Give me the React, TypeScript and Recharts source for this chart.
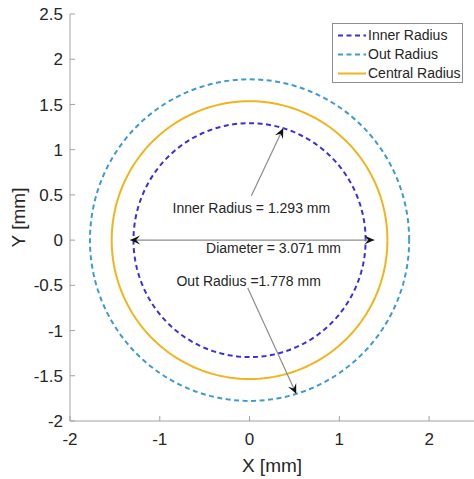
import React from 'react';
import { ComposedChart, Line, XAxis, YAxis, ReferenceLine, ReferenceDot, Legend } from 'recharts';

// ---- data ----
const seriesNames = ['Inner Radius', 'Out Radius', 'Central Radius'];
const seriesRadii = [1.293, 1.778, 1.5355];
const seriesColors = ['#3a30d8', '#3e9ad0', '#f0b41c'];
const seriesDash = ['5 3.5', '5 3.5', ''];

const xTicks = [-2, -1, 0, 1, 2];
const yTicks = [-2, -1.5, -1, -0.5, 0, 0.5, 1, 1.5, 2, 2.5];
const xDomain = [-2, 2.5];
const yDomain = [-2, 2.5];

const arrowStarts = [{ x: 0.02, y: 0.49 }, { x: -1.33, y: 0 }, { x: -0.02, y: -0.53 }];
const arrowEnds = [{ x: 0.375, y: 1.237 }, { x: 1.39, y: 0 }, { x: 0.52, y: -1.7 }];
const arrowDouble = [false, true, false];

const annotationTexts = ['Inner Radius = 1.293 mm', 'Diameter = 3.071 mm', 'Out Radius =1.778 mm'];
const annotationX = [0.02, 0.267, -0.01];
const annotationY = [0.354, -0.088, -0.45];

// circle outline for each radius (parametric polyline through the chart scales)
const circleAngles = Array.from({ length: 181 }, (_, i) => (i * 2 * Math.PI) / 180);
const circles = seriesRadii.map((r) => circleAngles.map((a) => ({ x: r * Math.cos(a), y: r * Math.sin(a) })));

const FONT = '"Liberation Sans", Arial, Helvetica, sans-serif';
const AXIS = '#a3a3a3';
const TXT = '#262626';

const LeftTick = (p: any) => (
  <g>
    <line x1={p.x + 7} x2={p.x + 12} y1={p.y} y2={p.y} stroke={AXIS} />
    <text x={p.x} y={p.y} dy="0.36em" textAnchor="end" fontSize={17} fontFamily={FONT} fill={TXT}>
      {p.payload.value}
    </text>
  </g>
);
const BottomTick = (p: any) => (
  <g>
    <line x1={p.x} x2={p.x} y1={p.y - 12} y2={p.y - 17} stroke={AXIS} />
    <text x={p.x} y={p.y} dy="0.71em" textAnchor="middle" fontSize={17} fontFamily={FONT} fill={TXT}>
      {p.payload.value}
    </text>
  </g>
);
const TopTick = (p: any) => <line x1={p.x} x2={p.x} y1={p.y} y2={p.y + 5} stroke={AXIS} />;
const RightTick = (p: any) => <line x1={p.x} x2={p.x - 5} y1={p.y} y2={p.y} stroke={AXIS} />;

const head = (tx: number, ty: number, fx: number, fy: number) => {
  const dx = tx - fx;
  const dy = ty - fy;
  const len = Math.sqrt(dx * dx + dy * dy) || 1;
  const ux = dx / len;
  const uy = dy / len;
  const nx = -uy;
  const ny = ux;
  const L = 10;
  const W = 4.5;
  const pts = [
    [tx, ty],
    [tx - L * ux + W * nx, ty - L * uy + W * ny],
    [tx - 0.6 * L * ux, ty - 0.6 * L * uy],
    [tx - L * ux - W * nx, ty - L * uy - W * ny],
  ];
  return <polygon points={pts.map((q) => q.join(',')).join(' ')} fill="#111" />;
};

const makeArrowShape = (double: boolean) => (p: any) => {
  const { x1, y1, x2, y2 } = p;
  return (
    <g>
      <line x1={x1} y1={y1} x2={x2} y2={y2} stroke="#8c8c8c" strokeWidth={1.2} />
      {head(x2, y2, x1, y1)}
      {double ? head(x1, y1, x2, y2) : null}
    </g>
  );
};

const makeTextShape = (t: string) => (p: any) => (
  <text x={p.cx} y={p.cy} dy="0.36em" textAnchor="middle" fontSize={14} fontFamily={FONT} fill={TXT}>
    {t}
  </text>
);

const renderLegend = () => (
  <div
    style={{
      width: 131,
      height: 60,
      boxSizing: 'border-box',
      border: '1px solid #8f8f8f',
      background: '#fff',
      fontFamily: FONT,
      fontSize: 14,
      color: TXT,
      paddingTop: 2,
    }}
  >
    {seriesNames.map((n, i) => (
      <div key={n} style={{ display: 'flex', alignItems: 'center', height: 19 }}>
        <svg width={35} height={19} style={{ flex: 'none' }}>
          <line
            x1={5}
            x2={33}
            y1={9.5}
            y2={9.5}
            stroke={seriesColors[i]}
            strokeWidth={2}
            strokeDasharray={seriesDash[i] || undefined}
          />
        </svg>
        <span style={{ whiteSpace: 'nowrap', lineHeight: '19px' }}>{n}</span>
      </div>
    ))}
  </div>
);

export default function App() {
  return (
    <div style={{ position: 'absolute', left: 0, top: 0, background: '#fff' }}>
      <ComposedChart width={474} height={479} margin={{ top: 14, right: 0, bottom: 0, left: 0 }}>
        <XAxis
          xAxisId={0}
          dataKey="x"
          type="number"
          domain={xDomain}
          ticks={xTicks}
          interval={0}
          height={58}
          tickSize={0}
          tickMargin={12}
          tick={<BottomTick />}
          axisLine={{ stroke: AXIS }}
          allowDataOverflow
          label={{
            content: (p: any) => (
              <text
                x={p.viewBox.x + p.viewBox.width / 2}
                y={p.viewBox.y + 51}
                textAnchor="middle"
                fontSize={19}
                fontFamily={FONT}
                fill={TXT}
              >
                X [mm]
              </text>
            ),
          }}
        />
        <XAxis
          xAxisId="top"
          orientation="top"
          dataKey="x"
          type="number"
          domain={xDomain}
          ticks={xTicks}
          interval={0}
          height={0}
          tickSize={0}
          tickMargin={0}
          tick={<TopTick />}
          axisLine={{ stroke: AXIS }}
          allowDataOverflow
        />
        <YAxis
          yAxisId={0}
          type="number"
          domain={yDomain}
          ticks={yTicks}
          interval={0}
          width={70}
          tickSize={0}
          tickMargin={7}
          tick={<LeftTick />}
          axisLine={{ stroke: AXIS }}
          allowDataOverflow
          label={{
            content: (p: any) => {
              const cy = p.viewBox.y + p.viewBox.height / 2;
              return (
                <text
                  transform={`translate(25, ${cy}) rotate(-90)`}
                  textAnchor="middle"
                  fontSize={19}
                  fontFamily={FONT}
                  fill={TXT}
                >
                  Y [mm]
                </text>
              );
            },
          }}
        />
        <YAxis
          yAxisId="right"
          orientation="right"
          type="number"
          domain={yDomain}
          ticks={yTicks}
          interval={0}
          width={0}
          tickSize={0}
          tickMargin={0}
          tick={<RightTick />}
          axisLine={{ stroke: AXIS }}
          allowDataOverflow
        />
        {circles.map((c, i) => (
          <Line
            key={seriesNames[i]}
            name={seriesNames[i]}
            data={c}
            dataKey="y"
            type="linear"
            stroke={seriesColors[i]}
            strokeWidth={2}
            strokeDasharray={seriesDash[i] || undefined}
            dot={false}
            activeDot={false}
            isAnimationActive={false}
          />
        ))}
        {arrowStarts.map((s, i) => (
          <ReferenceLine
            key={'a' + i}
            segment={[s, arrowEnds[i]]}
            shape={makeArrowShape(arrowDouble[i])}
            ifOverflow="visible"
          />
        ))}
        {annotationTexts.map((t, i) => (
          <ReferenceDot
            key={'t' + i}
            x={annotationX[i]}
            y={annotationY[i]}
            r={0}
            shape={makeTextShape(t)}
            ifOverflow="visible"
          />
        ))}
        <Legend
          layout="vertical"
          align="center"
          verticalAlign="middle"
          content={renderLegend}
          wrapperStyle={{ left: 332, top: 23, width: 131, height: 60 }}
        />
      </ComposedChart>
    </div>
  );
}
